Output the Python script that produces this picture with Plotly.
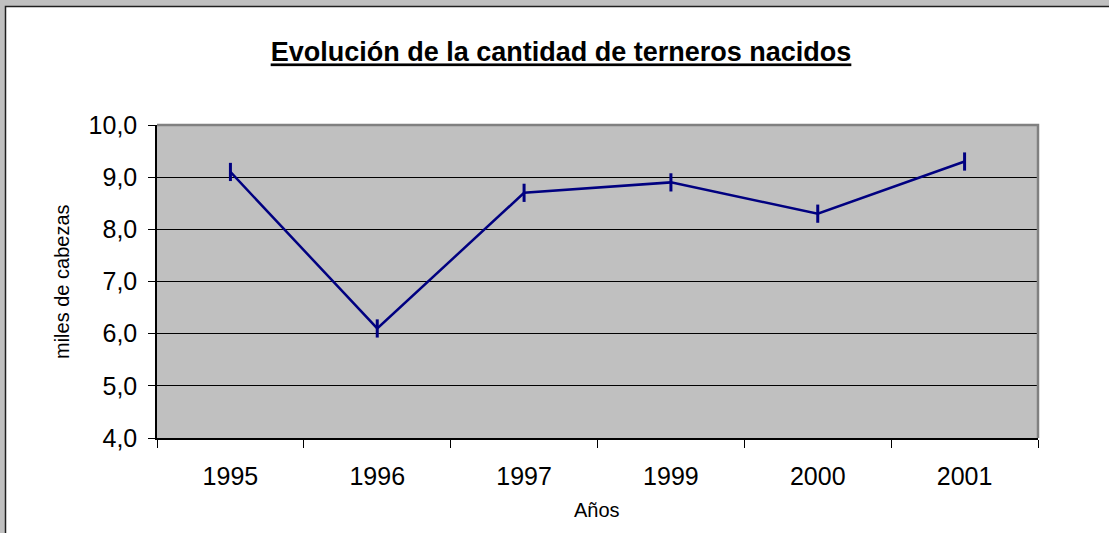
import plotly.graph_objects as go

years = ["1995", "1996", "1997", "1999", "2000", "2001"]
values = [9.1, 6.1, 8.7, 8.9, 8.3, 9.3]
y_ticks = [4, 5, 6, 7, 8, 9, 10]
y_tick_labels = ["4,0", "5,0", "6,0", "7,0", "8,0", "9,0", "10,0"]

W, H = 1109, 533
L, R, T, B = 157, 71, 125, 95
PW, PH = W - L - R, H - T - B

def px(x):
    return (x - L) / PW

def py(y):
    return 1 - (y - T) / PH

NAVY = "#000080"
FONT = "Liberation Sans, Arial, sans-serif"

fig = go.Figure()
fig.add_trace(go.Scatter(
    x=years, y=values, mode="lines+markers",
    line=dict(color=NAVY, width=2.5),
    marker=dict(symbol="line-ns", size=13, line=dict(color=NAVY, width=3), color=NAVY),
    showlegend=False, cliponaxis=False,
))

shapes = [
    # gray outer band (left and top)
    dict(type="rect", xref="paper", yref="paper", x0=px(-5), x1=px(5), y0=py(H + 10), y1=py(-5),
         fillcolor="#C0C0C0", line=dict(width=0), layer="below"),
    dict(type="rect", xref="paper", yref="paper", x0=px(-5), x1=px(W + 10), y0=py(6), y1=py(-5),
         fillcolor="#C0C0C0", line=dict(width=0), layer="below"),
    # dark border line
    dict(type="path", xref="paper", yref="paper",
         path=f"M {px(5.5)} {py(H + 10)} L {px(5.5)} {py(6.5)} L {px(W + 10)} {py(6.5)}",
         line=dict(color="#202020", width=1.5), layer="below"),
    # gray top/right frame of plot area
    dict(type="path", xref="x domain", yref="y domain",
         path="M 0 1 L 1 1 L 1 0",
         line=dict(color="#808080", width=2.5), layer="above"),
]

annotations = [
    dict(text="miles de cabezas", xref="paper", yref="paper", x=px(62), y=py(282),
         showarrow=False, textangle=-90, font=dict(family=FONT, size=20, color="black"),
         xanchor="center", yanchor="middle"),
    dict(text="Años", xref="paper", yref="paper", x=px(597), y=py(510),
         showarrow=False, font=dict(family=FONT, size=20, color="black"),
         xanchor="center", yanchor="middle"),
]

fig.update_layout(
    width=W, height=H,
    margin=dict(l=L, r=R, t=T, b=B, pad=0),
    paper_bgcolor="white",
    plot_bgcolor="#C0C0C0",
    title=dict(text="<b><u>Evolución de la cantidad de terneros nacidos</u></b>",
               x=561 / W, xanchor="center", xref="container",
               y=1 - 52 / H, yanchor="middle", yref="container",
               font=dict(family=FONT, size=27, color="black")),
    shapes=shapes,
    annotations=annotations,
    xaxis=dict(
        type="category", range=[-0.5, 5.5],
        tickson="boundaries", ticks="outside", ticklen=8, tickwidth=1, tickcolor="black",
        showgrid=False, showline=True, linecolor="black", linewidth=1.5,
        tickfont=dict(family=FONT, size=25, color="black"),
        ticklabelstandoff=15, zeroline=False,
    ),
    yaxis=dict(
        range=[4, 10], tickvals=y_ticks, ticktext=y_tick_labels,
        ticks="outside", ticklen=7, tickwidth=1, tickcolor="black",
        showgrid=True, gridcolor="black", gridwidth=1,
        showline=True, linecolor="black", linewidth=1.5,
        tickfont=dict(family=FONT, size=25, color="black"),
        ticklabelstandoff=6, zeroline=False,
    ),
)

fig.write_html("out.html", config={"displayModeBar": False},
               post_script="document.body.style.margin='0';document.body.style.overflow='hidden';")
